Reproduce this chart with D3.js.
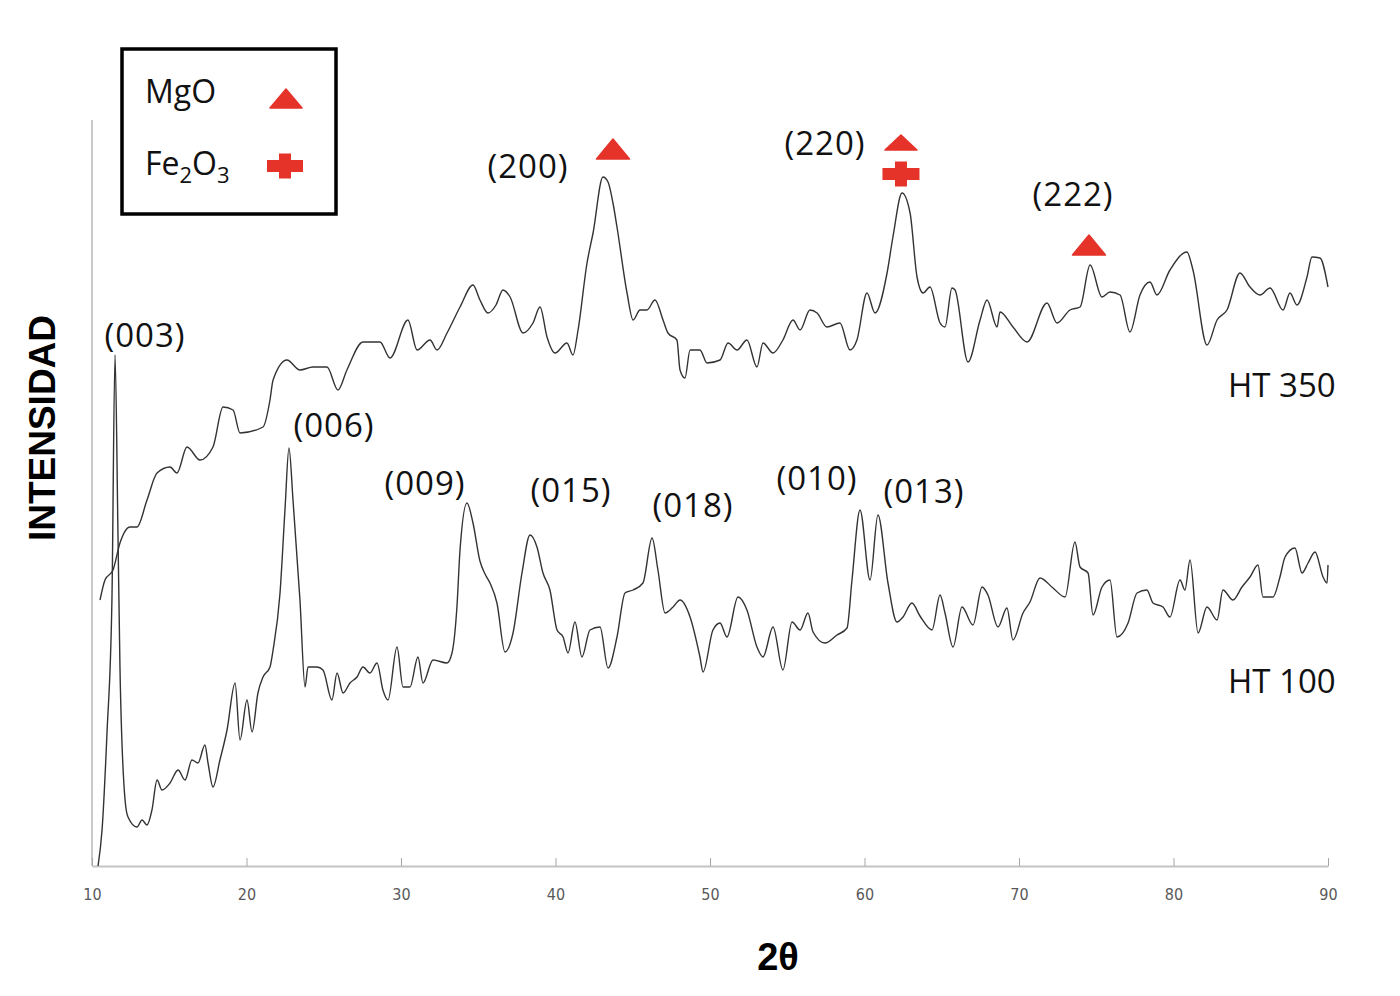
<!DOCTYPE html>
<html>
<head>
<meta charset="utf-8">
<script src="https://cdn.jsdelivr.net/npm/d3@7"></script>
<style>
  body { margin: 0; background: #fff; }
  svg { display: block; }
</style>
</head>
<body>
<script>
// 2theta (deg) and intensity (a.u.)
var ht100Theta = [10.39, 10.65, 10.97, 11.29, 11.49, 11.68, 11.81, 12.14, 12.33, 12.91, 13.24, 13.56, 13.88, 14.21, 14.53,
  15.05, 15.57, 16.02, 16.47, 16.86, 17.31, 17.51, 17.83, 18.28, 18.74, 19.26, 19.58, 20.03, 20.36, 20.74,
  21.07, 21.52, 21.72, 22.17, 22.49, 22.75, 23.01, 23.46, 23.79, 23.98, 24.56, 24.95, 25.53, 25.86, 26.25,
  26.70, 27.15, 27.54, 27.99, 28.45, 28.83, 29.16, 29.74, 30.13, 30.58, 31.10, 31.42, 32.07, 32.98, 33.30,
  33.62, 33.82, 34.27, 34.66, 35.11, 35.44, 35.76, 36.21, 36.73, 37.25, 37.83, 38.35, 38.80, 39.19, 39.64,
  40.10, 40.49, 40.81, 41.26, 41.71, 42.23, 42.88, 43.40, 43.98, 44.50, 45.02, 45.66, 46.25, 46.63, 47.09,
  47.61, 48.06, 48.71, 49.35, 49.55, 50.19, 50.65, 51.10, 51.81, 52.39, 53.04, 53.43, 54.08, 54.72, 55.31,
  55.83, 56.34, 56.67, 57.44, 58.22, 58.87, 59.19, 59.71, 60.36, 60.87, 61.52, 62.10, 62.49, 63.07, 63.59,
  64.37, 64.89, 65.21, 65.73, 66.31, 67.02, 67.61, 67.99, 68.64, 69.22, 69.61, 70.26, 70.71, 71.36, 72.20,
  72.98, 73.62, 73.95, 74.47, 74.79, 75.37, 75.89, 76.34, 77.06, 77.64, 78.28, 78.67, 79.32, 79.77, 80.42,
  80.74, 81.07, 81.59, 82.17, 82.82, 83.20, 83.85, 84.43, 84.95, 85.47, 85.79, 86.44, 86.89, 87.22, 87.86,
  88.32, 88.71, 89.16, 89.68, 89.94, 90.00];
var ht100Int = [0, 36, 133, 266, 511, 333, 199, 66, 49, 39, 46, 41, 56, 86, 76,
  83, 96, 86, 106, 103, 121, 103, 79, 106, 136, 183, 126, 166, 134, 173,
  189, 199, 216, 273, 356, 418, 366, 266, 179, 199, 199, 196, 166, 193, 173,
  183, 189, 199, 193, 203, 176, 166, 219, 179, 179, 209, 183, 206, 203, 213,
  259, 316, 363, 343, 305, 292, 283, 263, 214, 233, 293, 331, 319, 293, 276,
  236, 229, 213, 244, 209, 236, 239, 198, 229, 273, 276, 283, 328, 296, 253,
  259, 266, 249, 209, 194, 236, 243, 229, 269, 256, 219, 209, 239, 196, 244,
  236, 253, 234, 223, 231, 238, 286, 356, 286, 351, 283, 244, 249, 263, 250,
  236, 271, 253, 219, 259, 241, 279, 271, 239, 258, 226, 253, 264, 288, 278,
  269, 324, 299, 293, 251, 279, 286, 229, 243, 273, 276, 263, 259, 249, 286,
  276, 306, 233, 259, 246, 276, 266, 279, 289, 301, 269, 269, 289, 309, 318,
  293, 303, 314, 289, 283, 301];

var ht350Theta = [10.52, 10.84, 11.36, 11.81, 12.46, 12.91, 13.56, 14.21, 15.05, 15.50, 16.15, 16.99, 17.83, 18.48, 19.13,
  19.58, 21.07, 21.52, 21.72, 22.62, 23.46, 24.30, 25.21, 25.92, 26.50, 27.54, 28.64, 29.29, 30.45, 31.04,
  31.88, 32.33, 32.98, 33.82, 34.66, 35.11, 35.63, 36.15, 36.60, 37.06, 37.90, 38.54, 39.00, 39.45, 39.97,
  40.74, 41.13, 41.46, 42.04, 42.43, 43.07, 43.40, 43.72, 43.98, 44.63, 45.02, 45.47, 45.92, 46.44, 46.96,
  47.28, 47.86, 48.06, 48.38, 48.71, 49.35, 49.81, 50.65, 51.17, 51.75, 52.39, 53.04, 53.43, 54.08, 54.72,
  55.37, 55.83, 56.47, 56.93, 57.57, 58.41, 59.06, 59.51, 60.16, 60.68, 61.46, 61.84, 62.43, 62.95, 63.40,
  63.79, 64.24, 64.89, 65.21, 65.66, 65.86, 66.70, 67.48, 67.93, 68.58, 68.77, 69.61, 70.52, 71.81, 72.46,
  73.30, 73.95, 74.60, 75.37, 75.89, 76.54, 77.18, 77.83, 78.48, 78.93, 79.77, 80.87, 81.26, 82.17, 82.82,
  83.46, 84.30, 84.95, 85.60, 86.25, 87.09, 87.54, 87.99, 88.64, 88.96, 89.48, 90.00];
var ht350Int = [266, 286, 296, 323, 339, 339, 366, 393, 399, 393, 419, 406, 419, 459, 456,
  433, 439, 466, 486, 506, 496, 499, 499, 476, 496, 524, 524, 508, 546, 516,
  526, 516, 533, 559, 581, 566, 553, 561, 576, 569, 533, 543, 559, 529, 513,
  523, 511, 536, 603, 633, 689, 684, 663, 639, 573, 546, 556, 556, 566, 546,
  533, 526, 496, 488, 516, 516, 503, 506, 523, 516, 526, 499, 523, 513, 526,
  546, 536, 556, 553, 539, 543, 516, 526, 573, 553, 593, 629, 673, 653, 589,
  573, 579, 543, 539, 578, 576, 504, 546, 566, 539, 554, 539, 524, 563, 543,
  556, 559, 601, 569, 574, 571, 534, 571, 584, 571, 596, 614, 596, 521, 546,
  556, 593, 579, 571, 578, 556, 573, 561, 589, 609, 608, 579];

var xTicks = [10, 20, 30, 40, 50, 60, 70, 80, 90];

// reflection labels: text, 2theta, intensity level of the label
var peakNames = ["(003)", "(006)", "(009)", "(015)", "(018)", "(010)", "(013)", "(200)", "(220)", "(222)"];
var peakTheta = [13.43, 25.66, 31.55, 41.00, 48.90, 56.93, 63.85, 38.22, 57.44, 73.50];
var peakLevel = [519, 429, 371, 364, 349, 376, 363, 688, 711, 660];

// phase markers
var mgoTheta = [43.72, 62.36, 74.53];
var mgoLevel = [707, 716, 611];
var fe2o3Theta = [62.36];
var fe2o3Level = [692];

var seriesNames = ["HT 350", "HT 100"];
var seriesTheta = [83.53, 83.53];
var seriesLevel = [469, 173];

var width = 1400, height = 996;
var red = "#e5332a";

var svg = d3.select("body").append("svg")
  .attr("width", width)
  .attr("height", height);

svg.append("rect").attr("width", width).attr("height", height).attr("fill", "#fff");

var x = d3.scaleLinear().domain([10, 90]).range([92, 1328]);
var y = d3.scaleLinear().domain([0, 750]).range([866, 116]);

// left axis line (no ticks)
svg.append("line")
  .attr("x1", 92).attr("x2", 92)
  .attr("y1", 120).attr("y2", 866)
  .attr("stroke", "#c9c9c9")
  .attr("stroke-width", 2);

var xAxis = svg.append("g")
  .attr("transform", "translate(0,866)")
  .call(d3.axisBottom(x).tickValues(xTicks).tickSize(-8).tickSizeOuter(0).tickPadding(23));

xAxis.select(".domain").attr("stroke", "#c4c4c4").attr("stroke-width", 2);
xAxis.selectAll(".tick line").attr("stroke", "#a6a6a6").attr("stroke-width", 1);
xAxis.selectAll(".tick text")
  .attr("fill", "#595959")
  .attr("font-family", "'Liberation Sans Narrow', 'DejaVu Sans Condensed', 'Roboto', sans-serif")
  .attr("font-size", "16px");

var line = d3.line()
  .curve(d3.curveMonotoneX)
  .x(function (d) { return x(d[0]); })
  .y(function (d) { return y(d[1]); });

var ht100 = d3.zip(ht100Theta, ht100Int);
var ht350 = d3.zip(ht350Theta, ht350Int);

[ht350, ht100].forEach(function (s) {
  svg.append("path")
    .datum(s)
    .attr("d", line)
    .attr("fill", "none")
    .attr("stroke", "#333")
    .attr("stroke-width", 1.4)
    .attr("stroke-linejoin", "round");
});

var labelFont = "'Open Sans', 'Noto Sans', sans-serif";

svg.selectAll("text.peak")
  .data(peakNames)
  .enter()
  .append("text")
  .attr("class", "peak")
  .text(function (d) { return d; })
  .attr("x", function (d, i) { return x(peakTheta[i]); })
  .attr("y", function (d, i) { return y(peakLevel[i]); })
  .attr("text-anchor", "middle")
  .attr("font-family", labelFont)
  .attr("font-size", "33px")
  .attr("letter-spacing", "1px")
  .attr("fill", "#111");

svg.selectAll("text.series")
  .data(seriesNames)
  .enter()
  .append("text")
  .attr("class", "series")
  .text(function (d) { return d; })
  .attr("x", function (d, i) { return x(seriesTheta[i]); })
  .attr("y", function (d, i) { return y(seriesLevel[i]); })
  .attr("font-family", labelFont)
  .attr("font-size", "33px")
  .attr("fill", "#111");

// triangle and cross shapes
function triPath(w, h) {
  return "M" + (-w / 2) + ",0L0," + (-h) + "L" + (w / 2) + ",0Z";
}
function crossPath(w, h, t) {
  return "M" + (-t / 2) + "," + (-h / 2) + "h" + t + "v" + (h / 2 - t / 2) + "h" + (w / 2 - t / 2) +
    "v" + t + "h" + (-(w / 2 - t / 2)) + "v" + (h / 2 - t / 2) + "h" + (-t) + "v" + (-(h / 2 - t / 2)) +
    "h" + (-(w / 2 - t / 2)) + "v" + (-t) + "h" + (w / 2 - t / 2) + "Z";
}

svg.selectAll("path.mgo")
  .data(mgoTheta)
  .enter()
  .append("path")
  .attr("class", "mgo")
  .attr("d", function (d, i) { return i == 1 ? triPath(32, 15) : triPath(33, 20); })
  .attr("transform", function (d, i) { return "translate(" + x(d) + "," + y(mgoLevel[i]) + ")"; })
  .attr("fill", red)
  .attr("stroke", red)
  .attr("stroke-width", 1.5)
  .attr("stroke-linejoin", "round");

svg.selectAll("path.fe")
  .data(fe2o3Theta)
  .enter()
  .append("path")
  .attr("class", "fe")
  .attr("d", crossPath(37, 25, 12))
  .attr("transform", function (d, i) { return "translate(" + x(d) + "," + y(fe2o3Level[i]) + ")"; })
  .attr("fill", red);

// legend
var legend = svg.append("g");
legend.append("rect")
  .attr("x", 122).attr("y", 49)
  .attr("width", 214).attr("height", 165)
  .attr("fill", "#fff")
  .attr("stroke", "#000")
  .attr("stroke-width", 3.5);

legend.append("text")
  .attr("x", 145).attr("y", 103)
  .attr("font-family", labelFont)
  .attr("font-size", "32px")
  .attr("fill", "#111")
  .text("MgO");

var fe = legend.append("text")
  .attr("x", 145).attr("y", 175)
  .attr("font-family", labelFont)
  .attr("font-size", "32px")
  .attr("fill", "#111");
fe.append("tspan").text("Fe");
fe.append("tspan").attr("font-size", "22px").attr("dy", 8).text("2");
fe.append("tspan").attr("dy", -8).text("O");
fe.append("tspan").attr("font-size", "22px").attr("dy", 8).text("3");

legend.append("path")
  .attr("d", triPath(32, 19))
  .attr("transform", "translate(286,108)")
  .attr("fill", red).attr("stroke", red).attr("stroke-width", 1.5).attr("stroke-linejoin", "round");
legend.append("path")
  .attr("d", crossPath(36, 25, 12))
  .attr("transform", "translate(285,166)")
  .attr("fill", red);

// axis titles
svg.append("text")
  .attr("transform", "translate(55,428) rotate(-90)")
  .attr("text-anchor", "middle")
  .attr("font-family", "'Liberation Sans', Arial, sans-serif")
  .attr("font-weight", "bold")
  .attr("font-size", "37px")
  .attr("fill", "#000")
  .text("INTENSIDAD");

svg.append("text")
  .attr("x", 778).attr("y", 970)
  .attr("text-anchor", "middle")
  .attr("font-family", "'Liberation Sans', Arial, sans-serif")
  .attr("font-weight", "bold")
  .attr("font-size", "38px")
  .attr("fill", "#000")
  .text("2θ");
</script>
</body>
</html>
